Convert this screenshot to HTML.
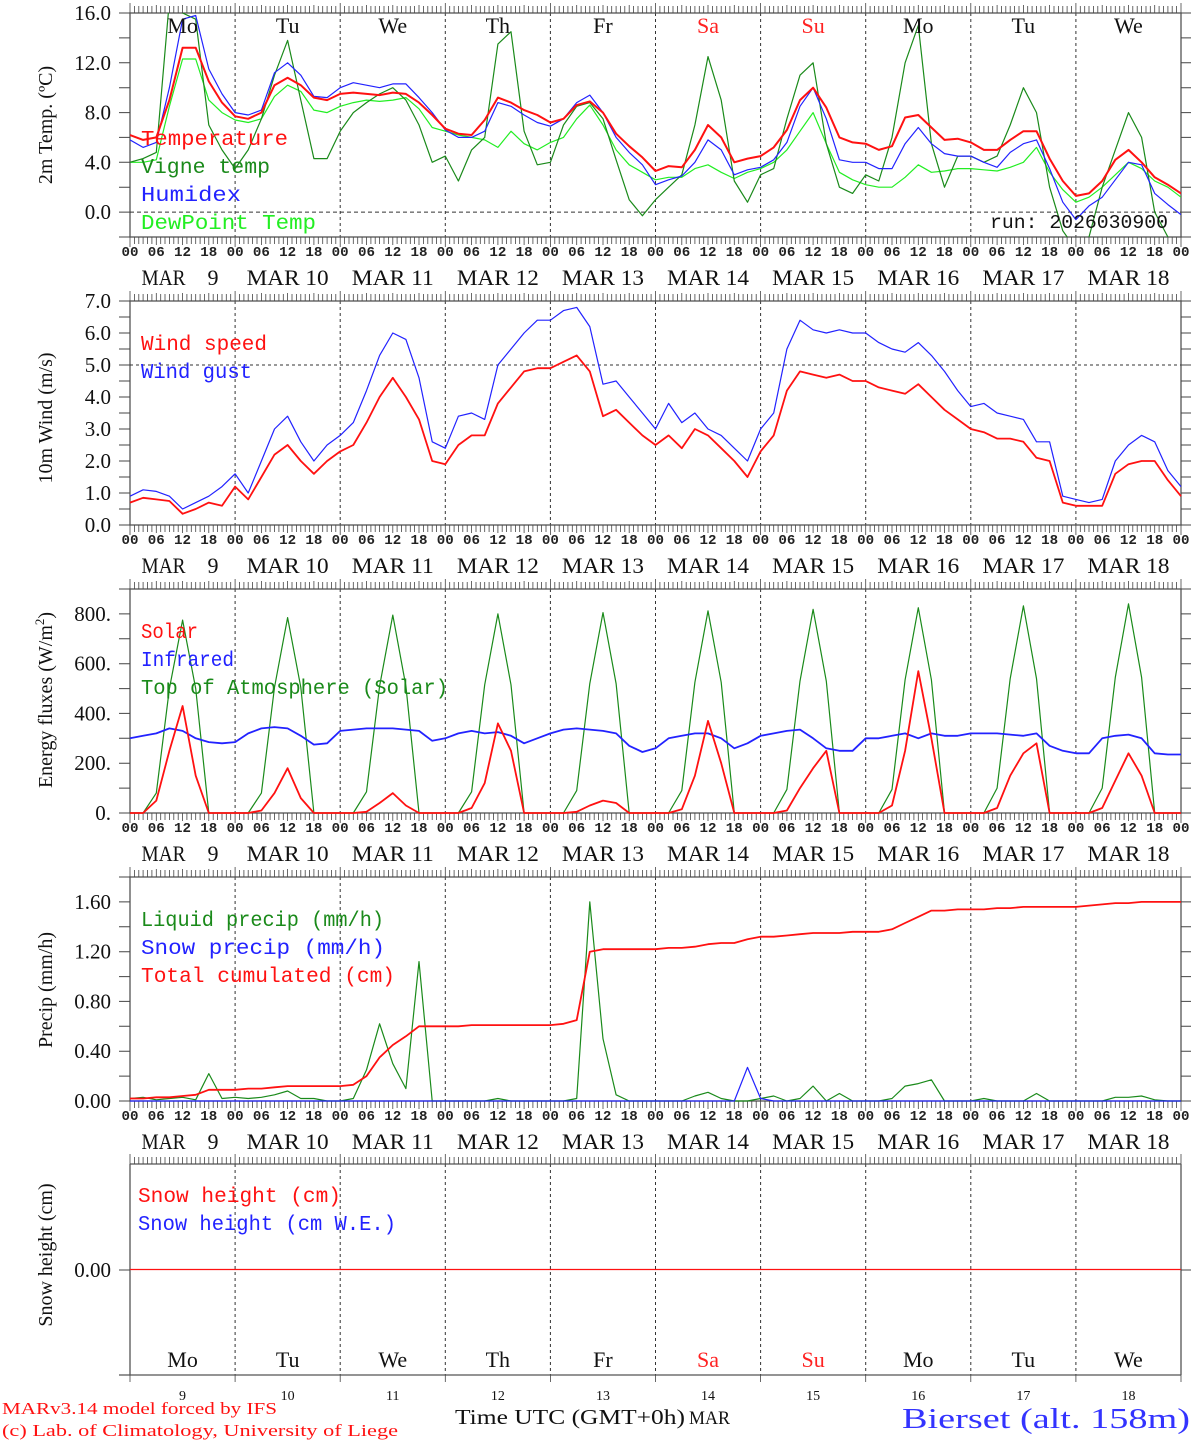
<!DOCTYPE html>
<html><head><meta charset="utf-8"><style>
html,body{margin:0;padding:0;background:#fff;}
svg{display:block;}
text{font-family:"Liberation Serif",serif;}
.mono{font-family:"Liberation Mono",monospace;}
.pre{white-space:pre;}
</style></head><body>
<svg id="c" width="1194" height="1440" viewBox="0 0 1194 1440" xmlns="http://www.w3.org/2000/svg"></svg>
<script>
// ---- data (3-hourly, 00h Mar 9 .. 00h Mar 19) ----
const days = ["Mo","Tu","We","Th","Fr","Sa","Su","Mo","Tu","We"];
const dates = ["9","10","11","12","13","14","15","16","17","18"];
const temperature = [6.2,5.8,6.0,9.0,13.2,13.2,10.5,8.8, 7.7,7.5,8.0,10.2,10.8,10.2,9.2,9.0, 9.5,9.6,9.5,9.4,9.6,9.5,8.8,7.8, 6.7,6.3,6.2,7.4,9.2,8.8,8.2,7.8, 7.2,7.5,8.6,8.9,8.0,6.3,5.3,4.4, 3.3,3.7,3.6,5.0,7.0,6.0,4.0,4.3, 4.5,5.2,6.6,9.0,10.0,8.4,6.0,5.6, 5.5,5.0,5.3,7.6,7.8,6.8,5.8,5.9, 5.6,5.0,5.0,5.8,6.5,6.5,4.3,2.5, 1.3,1.5,2.5,4.2,5.0,4.0,2.8,2.2,1.5];
const vigneTemp = [4.0,4.3,4.8,17,16,15.5,7.0,5.0, 3.5,5.0,7.5,11.0,13.8,9.0,4.3,4.3, 6.5,8.0,8.8,9.5,10.0,9.0,7.0,4.0, 4.5,2.5,5.0,6.0,13.5,14.5,6.5,3.8, 4.0,7.0,8.5,8.8,7.5,4.2,1.0,-0.3, 1.0,2.0,3.0,7.0,12.5,9.0,2.5,0.8, 3.0,3.5,7.5,11.0,12.0,5.5,2.0,1.5, 3.0,2.5,6.0,12.0,15.0,5.5,2.0,4.5, 4.5,4.0,4.5,7.0,10.0,8.0,2.0,-1.5, -3,-2.0,2.0,5.0,8.0,6.0,0.0,-2.0,-3];
const humidex = [5.8,5.2,5.6,10,15.5,15.8,11.5,9.5, 8.0,7.8,8.2,11.2,12.0,11.0,9.3,9.2, 10.0,10.4,10.2,10.0,10.3,10.3,9.2,8.0, 6.6,6.0,6.0,6.5,8.8,8.5,7.8,7.2, 6.9,7.5,8.8,9.4,8.0,6.0,4.8,3.8, 2.2,2.6,2.9,4.0,5.8,5.0,3.0,3.4, 3.6,4.2,5.6,8.5,10.0,7.5,4.2,4.0, 4.0,3.5,3.5,5.5,6.8,5.5,4.7,4.5, 4.5,4.0,3.6,4.8,5.5,5.8,3.5,0.8, -0.6,0.5,1.2,2.6,4.0,3.8,1.5,0.6,-0.2];
const dewPoint = [4.0,4.0,4.2,8.5,12.3,12.3,9.0,8.0, 7.4,7.2,7.5,9.3,10.2,9.7,8.2,8.0, 8.5,8.8,9.0,8.9,9.0,9.2,8.3,6.8, 6.5,6.2,6.0,5.8,5.2,6.5,5.5,5.0, 5.6,6.0,7.5,8.6,7.0,5.0,3.8,3.2, 2.6,2.8,2.8,3.5,3.8,3.2,2.7,3.2, 3.5,4.0,5.0,6.5,8.0,5.5,3.2,2.6, 2.2,2.0,2.0,2.8,3.8,3.2,3.3,3.5, 3.5,3.4,3.3,3.6,4.0,5.2,3.2,1.8, 0.8,1.2,2.0,3.0,4.0,3.5,2.5,2.0,1.2];
const windSpeed = [0.7,0.85,0.8,0.75,0.35,0.5,0.7,0.6, 1.2,0.8,1.5,2.2,2.5,2.0,1.6,2.0, 2.3,2.5,3.2,4.0,4.6,4.0,3.3,2.0, 1.9,2.5,2.8,2.8,3.8,4.3,4.8,4.9, 4.9,5.1,5.3,4.8,3.4,3.6,3.2,2.8, 2.5,2.8,2.4,3.0,2.8,2.4,2.0,1.5, 2.3,2.8,4.2,4.8,4.7,4.6,4.7,4.5, 4.5,4.3,4.2,4.1,4.4,4.0,3.6,3.3, 3.0,2.9,2.7,2.7,2.6,2.1,2.0,0.7, 0.6,0.6,0.6,1.6,1.9,2.0,2.0,1.4,0.9];
const windGust = [0.9,1.1,1.05,0.9,0.5,0.7,0.9,1.2, 1.6,1.0,2.0,3.0,3.4,2.6,2.0,2.5, 2.8,3.2,4.2,5.3,6.0,5.8,4.6,2.6, 2.4,3.4,3.5,3.3,5.0,5.5,6.0,6.4, 6.4,6.7,6.8,6.2,4.4,4.5,4.0,3.5, 3.0,3.8,3.2,3.5,3.0,2.8,2.4,2.0, 3.0,3.5,5.5,6.4,6.1,6.0,6.1,6.0, 6.0,5.7,5.5,5.4,5.7,5.3,4.8,4.2, 3.7,3.8,3.5,3.4,3.3,2.6,2.6,0.9, 0.8,0.7,0.8,2.0,2.5,2.8,2.6,1.7,1.2];
const solar = [0,0,50,250,430,150,0,0, 0,0,10,80,180,60,0,0, 0,0,5,40,80,30,0,0, 0,0,20,120,360,250,0,0, 0,0,5,30,50,40,0,0, 0,0,15,150,370,200,0,0, 0,0,10,100,180,250,0,0, 0,0,30,250,570,300,0,0, 0,0,20,150,240,280,0,0, 0,0,20,130,240,150,0,0,0];
const infrared = [300,310,320,340,330,300,285,280, 285,320,340,345,340,310,275,280, 330,335,340,340,340,335,330,290, 300,320,330,320,325,310,280,300, 320,335,340,335,330,320,270,245, 260,300,310,320,320,300,260,280, 310,320,330,335,300,260,250,250, 300,300,310,320,300,320,310,310, 320,320,320,315,310,320,270,250, 240,240,300,310,315,300,240,235,235];
const toaSolar = [0,0,80,500,775,500,0,0, 0,0,80,505,785,505,0,0, 0,0,85,510,795,510,0,0, 0,0,85,515,800,515,0,0, 0,0,90,520,805,520,0,0, 0,0,90,525,812,525,0,0, 0,0,95,530,818,530,0,0, 0,0,95,535,825,535,0,0, 0,0,100,540,832,540,0,0, 0,0,100,545,840,545,0,0,0];
const liquidPrecip = [0.02,0.03,0.01,0.02,0.03,0.01,0.22,0.02, 0.03,0.02,0.03,0.05,0.08,0.02,0.02,0, 0,0.02,0.25,0.62,0.3,0.1,1.12,0, 0,0,0,0,0.02,0,0,0, 0,0,0.02,1.6,0.5,0.05,0,0, 0,0,0,0.04,0.07,0.02,0,0, 0.02,0.04,0,0.02,0.12,0,0.06,0, 0,0,0.02,0.12,0.14,0.17,0,0, 0,0.02,0,0,0,0.06,0,0, 0,0,0,0.03,0.03,0.04,0.01,0,0];
const snowPrecip = [0,0,0,0,0,0,0,0, 0,0,0,0,0,0,0,0, 0,0,0,0,0,0,0,0, 0,0,0,0,0,0,0,0, 0,0,0,0,0,0,0,0, 0,0,0,0,0,0,0,0.27, 0.02,0,0,0,0,0,0,0, 0,0,0,0,0,0,0,0, 0,0,0,0,0,0,0,0, 0,0,0,0,0,0,0,0,0];
const totalCum = [0.02,0.02,0.03,0.03,0.04,0.05,0.09,0.09, 0.09,0.10,0.10,0.11,0.12,0.12,0.12,0.12, 0.12,0.13,0.20,0.35,0.45,0.52,0.60,0.60, 0.60,0.60,0.61,0.61,0.61,0.61,0.61,0.61, 0.61,0.62,0.65,1.20,1.22,1.22,1.22,1.22, 1.22,1.23,1.23,1.24,1.26,1.27,1.27,1.30, 1.32,1.32,1.33,1.34,1.35,1.35,1.35,1.36, 1.36,1.36,1.38,1.43,1.48,1.53,1.53,1.54, 1.54,1.54,1.55,1.55,1.56,1.56,1.56,1.56, 1.56,1.57,1.58,1.59,1.59,1.60,1.60,1.60,1.60];
const snowHeight = new Array(81).fill(0);
const tempTicks = [0,4,8,12,16], tempTickLabels = ["0.0","4.0","8.0","12.0","16.0"];
const windTickLabels = ["0.0","1.0","2.0","3.0","4.0","5.0","6.0","7.0"];
const fluxTickLabels = ["0.","200.","400.","600.","800."];
const precipTickLabels = ["0.00","0.40","0.80","1.20","1.60"];

// ---- geometry ----
const NS="http://www.w3.org/2000/svg", svg=document.getElementById('c');
const X0=130, X1=1181;
const xh = h => X0 + h*(X1-X0)/240;
function el(tag, attrs, parent){const e=document.createElementNS(NS,tag);for(const k in attrs)e.setAttribute(k,attrs[k]);(parent||svg).appendChild(e);return e;}
function txt(s, x, y, attrs, parent){const t=el('text',Object.assign({x:x,y:y},attrs),parent);t.textContent=s;return t;}
function panel(name, top, bot, vmin, vmax){
  const g=el('g',{});
  
  
  const y=v=>bot-(v-vmin)*(bot-top)/(vmax-vmin);
  return {g,y,top,bot};
}
function frame(p, hourTicks, bottomLabels){
  const g=p.g;
  for(let d=1;d<10;d++){const l=el('line',{x1:xh(d*24),x2:xh(d*24),y1:p.top,y2:p.bot,stroke:'#333','stroke-width':1,'stroke-dasharray':'3,3'},g);
    }
  el('rect',{x:X0,y:p.top,width:X1-X0,height:p.bot-p.top,fill:'none',stroke:'#555','stroke-width':1.3},g);
  if(hourTicks){
    let d='';
    for(let h=0;h<=240;h++){const x=xh(h).toFixed(1);const L=(h%24==0)?10:(h%6==0?8:7);
      d+=`M${x} ${p.top}v${-L}M${x} ${p.bot}v${L}`;}
    el('path',{d:d,stroke:'#444','stroke-width':0.8,fill:'none'},g);
  }
  if(bottomLabels){
    for(let d=0;d<10;d++){
      for(let k=0;k<4;k++){txt(['00','06','12','18'][k],xh(d*24+k*6),p.bot+19,{'font-size':14,'text-anchor':'middle','class':'mono','font-weight':'bold',fill:'#222',textLength:17,lengthAdjust:'spacingAndGlyphs'},g);}
      const one=dates[d].length<2;
      let lab;
      if(one){
        lab=el('g',{},g);
        txt('MAR',xh(d*24+12)-41,p.bot+48,{'font-size':22,fill:'#111',textLength:44,lengthAdjust:'spacingAndGlyphs'},lab);
        txt(dates[d],xh(d*24+12)+25,p.bot+48,{'font-size':22,fill:'#111'},lab);
      } else {
        lab=txt('MAR '+dates[d],xh(d*24+12),p.bot+48,{'font-size':22,'text-anchor':'middle',fill:'#111',textLength:82,lengthAdjust:'spacingAndGlyphs'},g);
      }
      
    }
    txt('00',xh(240),p.bot+19,{'font-size':14,'text-anchor':'middle','class':'mono','font-weight':'bold',fill:'#222',textLength:17,lengthAdjust:'spacingAndGlyphs'},g);
  }
}
function yticks(p, vals, labels, minorStep, vmin, vmax){
  let d='';
  for(let v=vmin;v<=vmax+1e-9;v+=minorStep){const y=p.y(v).toFixed(1);d+=`M${X0} ${y}h-11M${X1} ${y}h10`;}
  el('path',{d:d,stroke:'#444','stroke-width':1,fill:'none'},p.g);
  vals.forEach((v,i)=>{txt(labels[i],111,p.y(v)+7,{'font-size':21,'text-anchor':'end',fill:'#111'},p.g);});
}
function series(p, arr, color, w, name){
  const pts=arr.map((v,i)=>xh(i*3).toFixed(1)+','+p.y(v).toFixed(1)).join(' ');
  const l=el('polyline',{points:pts,fill:'none',stroke:color,'stroke-width':w,'stroke-linejoin':'round'},p.g);
  
  
}
function legend(p, items, x, y0){
  items.forEach((it,i)=>{const t=txt(it[0],x,y0+i*28,{'font-size':21,'class':'mono pre',fill:it[1],textLength:it[2],lengthAdjust:'spacingAndGlyphs'},p.g);
    });
}
function ytitle(p, s, cy){const t=txt(s,0,0,{'font-size':20,'text-anchor':'middle',fill:'#111',transform:`translate(52,${cy}) rotate(-90)`},p.g);
  return t;}
function clip(p,id){const c=el('clipPath',{id:id});el('rect',{x:X0,y:p.top,width:X1-X0,height:p.bot-p.top},c);const g=el('g',{'clip-path':`url(#${id})`},p.g);return g;}

// ---- panel 1 temperature ----
const p1=panel('temperature-panel',13,237,-2,16);
frame(p1,true,true);
el('line',{x1:X0,x2:X1,y1:p1.y(0),y2:p1.y(0),stroke:'#333','stroke-dasharray':'4,3'},p1.g);
yticks(p1,tempTicks,tempTickLabels,2,-2,16);
ytitle(p1,'2m Temp. (ºC)',125);
{const cg=clip(p1,'cl1');const q={g:cg,y:p1.y};
 series(q,dewPoint,'#22ee22',1.2,'dewpoint-line');series(q,vigneTemp,'#1a8a1a',1.2,'vigne-temp-line');
 series(q,humidex,'#2222ff',1.2,'humidex-line');series(q,temperature,'#ff1111',2,'temperature-line');}
days.forEach((d,i)=>{const t=txt(d,xh(i*24+12),33,{'font-size':22,'text-anchor':'middle',fill:(i==5||i==6)?'#ff2222':'#111'},p1.g);
  });
legend(p1,[['Temperature','#ff1111',147],['Vigne temp','#1a8a1a',129],['Humidex','#2222ff',100],['DewPoint Temp','#22ee22',175]],141,145);
{const t=txt('run: 2026030900',1168,228,{'font-size':19,'text-anchor':'end','class':'mono',fill:'#111',textLength:178,lengthAdjust:'spacingAndGlyphs'},p1.g);}

// ---- panel 2 wind ----
const p2=panel('wind-panel',301,525,0,7);
frame(p2,true,true);
el('line',{x1:X0,x2:X1,y1:p2.y(5),y2:p2.y(5),stroke:'#333','stroke-dasharray':'3,3'},p2.g);
yticks(p2,[0,1,2,3,4,5,6,7],windTickLabels,0.5,0,7);
ytitle(p2,'10m Wind (m/s)',418);
series(p2,windGust,'#2222ff',1.2,'wind-gust-line');series(p2,windSpeed,'#ff1111',1.8,'wind-speed-line');
legend(p2,[['Wind speed','#ff1111',126],['Wind gust','#2222ff',111]],141,350);

// ---- panel 3 energy ----
const p3=panel('energy-panel',589,813,0,900);
frame(p3,true,true);
yticks(p3,[0,200,400,600,800],fluxTickLabels,100,0,900);
{const t=txt('Energy fluxes (W/m',0,0,{'font-size':20,'text-anchor':'middle',fill:'#111',transform:'translate(52,700) rotate(-90)'},p3.g);
 const s=el('tspan',{dy:-8,'font-size':13},t);s.textContent='2';const s2=el('tspan',{dy:8},t);s2.textContent=')';
 }
series(p3,toaSolar,'#1a8a1a',1.2,'toa-solar-line');series(p3,infrared,'#2222ff',1.8,'infrared-line');series(p3,solar,'#ff1111',1.8,'solar-line');
legend(p3,[['Solar','#ff1111',57],['Infrared','#2222ff',93],['Top of Atmosphere (Solar)','#1a8a1a',307]],141,638);

// ---- panel 4 precip ----
const p4=panel('precip-panel',877,1101,0,1.8);
frame(p4,true,true);
yticks(p4,[0,0.4,0.8,1.2,1.6],precipTickLabels,0.2,0,1.8);
ytitle(p4,'Precip (mm/h)',990);
series(p4,liquidPrecip,'#1a8a1a',1.2,'liquid-precip-line');series(p4,snowPrecip,'#2222ff',1.2,'snow-precip-line');series(p4,totalCum,'#ff1111',1.8,'total-cumulated-line');
legend(p4,[['Liquid precip (mm/h)','#1a8a1a',243],['Snow precip (mm/h)','#2222ff',244],['Total cumulated (cm)','#ff1111',254]],141,926);

// ---- panel 5 snow ----
const p5=panel('snow-panel',1164,1375,-1,1);
{const g=p5.g;
 for(let d=1;d<10;d++)el('line',{x1:xh(d*24),x2:xh(d*24),y1:p5.top,y2:p5.bot,stroke:'#333','stroke-dasharray':'3,3'},g);
 el('line',{x1:X0,x2:X0,y1:p5.top,y2:p5.bot,stroke:'#555','stroke-width':1.3},g);
 el('line',{x1:X1,x2:X1,y1:p5.top,y2:p5.bot,stroke:'#555','stroke-width':1.3},g);
 el('line',{x1:X0,x2:X1,y1:p5.top,y2:p5.top,stroke:'#555','stroke-width':1.3},g);
 el('line',{x1:X0-11,x2:X1,y1:p5.bot,y2:p5.bot,stroke:'#555','stroke-width':1.3},g);
 let d='';for(let h=0;h<=240;h++){const x=xh(h).toFixed(1);d+=`M${x} ${p5.top}v${h%24==0?-10:-7}`;if(h%24==0)d+=`M${x} ${p5.bot}v7`;}
 el('path',{d:d,stroke:'#444','stroke-width':0.8,fill:'none'},g);
 el('path',{d:`M${X0} 1270h-11M${X1} 1270h10`,stroke:'#444'},g);
 txt('0.00',111,1277,{'font-size':21,'text-anchor':'end',fill:'#111'},g);
 days.forEach((dn,i)=>{txt(dn,xh(i*24+12),1367,{'font-size':22,'text-anchor':'middle',fill:(i==5||i==6)?'#ff2222':'#111'},g);
   txt(dates[i],xh(i*24+12),1400,{'font-size':14,'text-anchor':'middle',fill:'#111'},g);});
}
ytitle(p5,'Snow height (cm)',1255);
series(p5,snowHeight,'#ff1111',1.3,'snow-height-line');
legend(p5,[['Snow height (cm)','#ff1111',203],['Snow height (cm W.E.)','#2222ff',258]],138,1202);

// ---- footer ----
{let t=txt('MARv3.14 model forced by IFS',2,1414,{'font-size':17,fill:'#ff1111',textLength:275,lengthAdjust:'spacingAndGlyphs'});
 t=txt('(c) Lab. of Climatology, University of Liege',2,1436,{'font-size':17,fill:'#ff1111',textLength:396,lengthAdjust:'spacingAndGlyphs'});
 t=txt('Time UTC (GMT+0h)',455,1424,{'font-size':21,fill:'#111',textLength:230,lengthAdjust:'spacingAndGlyphs'});
 t=txt('MAR',689,1424,{'font-size':19,fill:'#111',textLength:41,lengthAdjust:'spacingAndGlyphs'});
 t=txt('Bierset (alt. 158m)',902,1428,{'font-size':29,fill:'#3333ff',textLength:288,lengthAdjust:'spacingAndGlyphs'});}
</script>
</body></html>
